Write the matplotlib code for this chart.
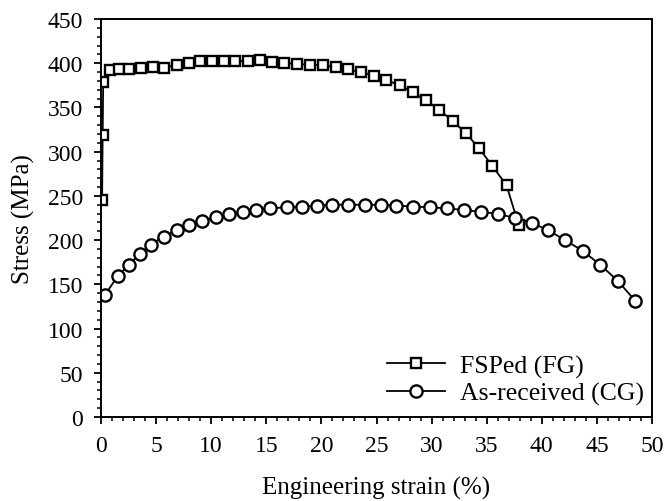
import matplotlib
matplotlib.use("Agg")
import matplotlib.pyplot as plt
from matplotlib.ticker import MultipleLocator

# FSPed (fine grain) curve
fsp_strain = [0.1, 0.15, 0.2, 0.8, 1.6, 2.5, 3.6, 4.7, 5.7, 6.9, 8.0, 9.0, 10.1, 11.2,
              12.2, 13.3, 14.4, 15.5, 16.6, 17.8, 19.0, 20.1, 21.3, 22.4, 23.6, 24.8,
              25.9, 27.1, 28.3, 29.5, 30.7, 31.9, 33.1, 34.3, 35.5, 36.8, 37.9]
fsp_stress = [245, 319, 379, 392, 394, 394, 394.5, 395.5, 394.5, 398.5, 400, 402, 402, 402,
              402, 403, 404, 401, 400.5, 399, 398.5, 397.5, 395.5, 393, 390, 386,
              381, 375, 367, 358, 347, 335, 321, 304, 284, 262, 217]

# As-received (coarse grain) curve
ar_strain = [0.36, 1.5, 2.5, 3.5, 4.5, 5.7, 6.9, 8.0, 9.2, 10.4, 11.6, 12.9, 14.1, 15.3,
             16.9, 18.2, 19.6, 21.0, 22.4, 24.0, 25.4, 26.8, 28.3, 29.9, 31.4, 32.9,
             34.5, 36.0, 37.6, 39.1, 40.6, 42.1, 43.7, 45.3, 46.9, 48.5]
ar_stress = [138, 159, 172, 184, 195, 204, 211.5, 217, 222, 226, 229, 232, 234, 236,
             237, 238, 239, 240, 240, 240, 240, 239, 238, 237, 236, 234,
             232, 229.6, 225, 219.5, 211, 200, 188, 172, 154, 131]

plt.rcParams['font.family'] = ['Liberation Serif', 'DejaVu Serif']

fig = plt.figure(figsize=(6.67, 5.02), dpi=100)
ax = fig.add_axes([101 / 667, 84 / 502, 551 / 667, 398 / 502])

ax.plot(fsp_strain, fsp_stress, color='black', lw=1.3, marker='s', ms=6.8,
        mfc='white', mec='black', mew=1.7, label='FSPed (FG)')
ax.plot(ar_strain, ar_stress, color='black', lw=1.3, marker='o', ms=8.8,
        mfc='white', mec='black', mew=1.7, label='As-received (CG)')

ax.set_xlim(0, 50)
ax.set_ylim(0, 450)
ax.xaxis.set_major_locator(MultipleLocator(5))
ax.xaxis.set_minor_locator(MultipleLocator(1))
ax.yaxis.set_major_locator(MultipleLocator(50))
ax.yaxis.set_minor_locator(MultipleLocator(10))
ax.tick_params(which='major', direction='out', length=5, width=1.3, labelsize=17, pad=8,
               top=False, right=False)
ax.tick_params(which='minor', direction='out', length=3, width=1.1, top=False, right=False)
for s in ax.spines.values():
    s.set_linewidth(1.4)

ax.set_xlabel("Engineering strain (%)", fontsize=18, labelpad=14)
ax.set_ylabel("Stress (MPa)", fontsize=18, labelpad=9)

ax.legend(loc='lower right', frameon=False, fontsize=18.5, handlelength=2.25,
          labelspacing=0.15, handletextpad=0.58, borderpad=0, borderaxespad=0,
          bbox_to_anchor=(0.985, 0.03))

fig.savefig("out.png", dpi=100)
